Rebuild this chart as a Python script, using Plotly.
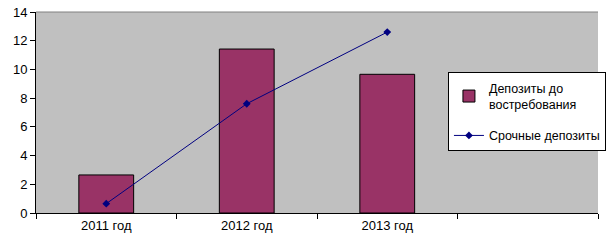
import plotly.graph_objects as go

categories = ["2011 год", "2012 год", "2013 год", " "]
demand_deposits = [2.65, 11.42, 9.66, None]
term_deposits = [0.65, 7.61, 12.6, None]
y_ticks = [0, 2, 4, 6, 8, 10, 12, 14]

fig = go.Figure()
fig.add_trace(go.Bar(
    x=categories, y=demand_deposits, name="Депозиты до<br>востребования",
    legendgroup="a",
    marker=dict(color="#993366", line=dict(color="black", width=1)),
    width=0.39,
))
fig.add_trace(go.Scatter(
    x=categories, y=term_deposits, name="Срочные депозиты",
    legendgroup="b",
    mode="lines+markers",
    line=dict(color="#000080", width=1),
    marker=dict(symbol="diamond", size=6, color="#000080"),
))

fig.update_layout(
    width=607, height=242,
    margin=dict(l=36, r=9, t=12, b=29, autoexpand=False),
    paper_bgcolor="white",
    plot_bgcolor="#c0c0c0",
    font=dict(family="Liberation Sans, Arial, sans-serif", size=13, color="black"),
    showlegend=True,
    legend=dict(
        x=0.733, y=0.70, xanchor="left", yanchor="top",
        bgcolor="white", bordercolor="black", borderwidth=1,
        font=dict(size=12.5),
        traceorder="grouped",
        tracegroupgap=12,
    ),
    xaxis=dict(
        categoryorder="array", categoryarray=categories,
        range=[-0.5, 3.5],
        tickson="boundaries", ticks="outside", ticklen=5, tickcolor="black",
        showline=True, linecolor="black", linewidth=1,
        showgrid=False, zeroline=False, fixedrange=True,
    ),
    yaxis=dict(
        range=[0, 14], tickvals=y_ticks,
        ticks="outside", ticklen=5, tickcolor="black",
        showline=True, linecolor="black", linewidth=1,
        showgrid=False, zeroline=False,
    ),
    shapes=[dict(type="line", xref="paper", yref="paper", x0=0, x1=1, y0=1, y1=1,
                 line=dict(color="#808080", width=1))],
    bargap=0.61,
)

fig.write_html("out.html")
